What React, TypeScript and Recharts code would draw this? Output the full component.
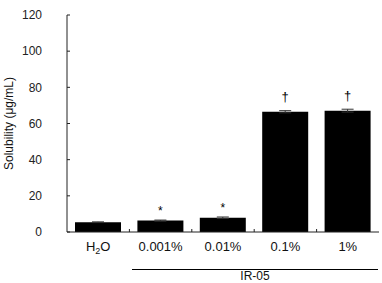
import { BarChart, Bar, XAxis, YAxis, ErrorBar, LabelList } from "recharts";

const groups = ["H2O", "0.001%", "0.01%", "0.1%", "1%"];
const solubility = [5.4, 6.3, 7.9, 66.5, 67.1];
const sd = [0.2, 0.3, 0.4, 0.6, 0.8];
const marks = ["", "*", "*", "†", "†"];
const yTicks = [0, 20, 40, 60, 80, 100, 120];

const data = groups.map((g, i) => ({ group: g, value: solubility[i], err: sd[i], mark: marks[i] }));

const font = "Arial, 'Liberation Sans', sans-serif";

function GroupTick(props: any) {
  const { x, y, payload, index } = props;
  const v = payload.value as string;
  const half = payload.offset ?? 31.25;
  return (
    <g>
      {index > 0 && <line x1={x - half} x2={x - half} y1={y} y2={y - 3} stroke="#222" />}
      <text x={x} y={y + 19} textAnchor="middle" fontSize={13} fontFamily={font} fill="#111">
        {v === "H2O" ? (
          <>
            <tspan>H</tspan>
            <tspan fontSize={9} dy={3}>2</tspan>
            <tspan dy={-3}>O</tspan>
          </>
        ) : (
          v
        )}
      </text>
    </g>
  );
}

function MarkLabel(props: any) {
  const { x, y, width, value } = props;
  if (!value) return null;
  const big = value === "†";
  return (
    <text x={x + width / 2} y={big ? y - 11 : y - 6} textAnchor="middle" fontSize={big ? 13 : 12} fontFamily={font} fill="#000">
      {value}
    </text>
  );
}

export default function App() {
  return (
    <div style={{ position: "absolute", left: 0, top: 0, width: 382, height: 283, background: "#fff", overflow: "hidden" }}>
      <BarChart width={382} height={283} data={data} margin={{ top: 15, right: 3, bottom: 31, left: 0 }} barCategoryGap={8}>
        <XAxis
          dataKey="group"
          height={20}
          stroke="#222"
          tickLine={false}
          tickSize={0}
          tickMargin={0}
          tick={<GroupTick />}
          interval={0}
        />
        <YAxis
          domain={[0, 120]}
          ticks={yTicks}
          width={67}
          tickSize={-3}
          tickMargin={28}
          stroke="#222"
          tick={{ fontSize: 12, fontFamily: font, fill: "#222" }}
          label={{
            value: "Solubility (μg/mL)",
            angle: -90,
            position: "insideLeft",
            offset: 9,
            style: { textAnchor: "middle", fontSize: 12, fontFamily: font, fill: "#111" },
          }}
        />
        <Bar dataKey="value" fill="#000" isAnimationActive={false}>
          <ErrorBar dataKey="err" width={6} stroke="#333" strokeWidth={1} direction="y" />
          <LabelList dataKey="mark" content={<MarkLabel />} />
        </Bar>
      </BarChart>
      <div style={{ position: "absolute", left: 132, top: 269, width: 246, borderTop: "1px solid #000" }} />
      <div
        style={{
          position: "absolute",
          left: 132,
          top: 269,
          width: 246,
          textAlign: "center",
          fontFamily: font,
          fontSize: 12,
          lineHeight: "14px",
          color: "#111",
        }}
      >
        IR-05
      </div>
    </div>
  );
}
